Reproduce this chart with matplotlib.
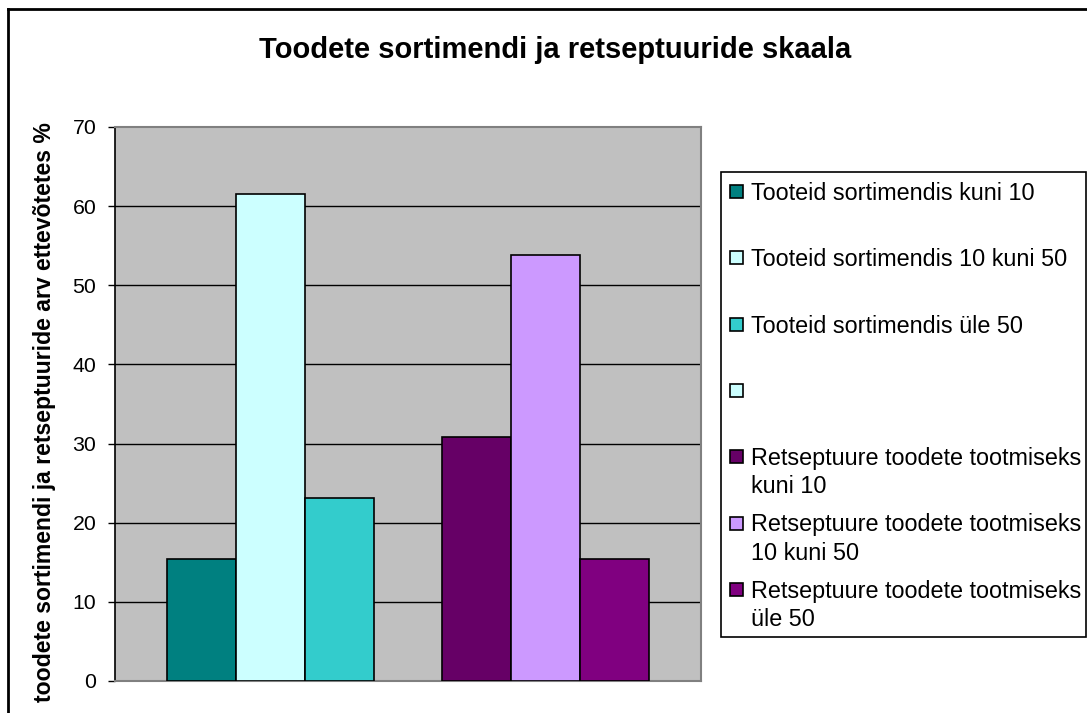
import matplotlib
matplotlib.use("Agg")
import matplotlib.pyplot as plt
from matplotlib.patches import Rectangle
from matplotlib.lines import Line2D
import numpy as np

plt.rcParams['font.family'] = ['Liberation Sans', 'DejaVu Sans']

# ---- data ----
title = "Toodete sortimendi ja retseptuuride skaala"
ylabel = "toodete sortimendi ja retseptuuride arv ettevõtetes %"
series_labels = [
    "Tooteid sortimendis kuni 10",
    "Tooteid sortimendis 10 kuni 50",
    "Tooteid sortimendis üle 50",
    "",
    "Retseptuure toodete tootmiseks\nkuni 10",
    "Retseptuure toodete tootmiseks\n10 kuni 50",
    "Retseptuure toodete tootmiseks\nüle 50",
]
series_values = [15.4, 61.5, 23.1, None, 30.8, 53.8, 15.4]
series_colors = ["#008080", "#CCFFFF", "#33CCCC", "#CCFFFF",
                 "#660066", "#CC99FF", "#800080"]
y_ticks = [0, 10, 20, 30, 40, 50, 60, 70]

W, H = 1087, 713
fig = plt.figure(figsize=(W / 100, H / 100), dpi=100)

def fx(px):
    return px / W

def fy(py):
    return 1 - py / H

# plot area
left, right, top, bottom = 115, 701, 127, 681
ax = fig.add_axes([fx(left), fy(bottom), fx(right - left), (bottom - top) / H])
ax.set_facecolor("#C0C0C0")

n = len(series_values)
offsets = np.arange(n) - (n - 1) / 2
for i, v in enumerate(series_values):
    if v is None:
        continue
    ax.bar(offsets[i], v, width=1.0, color=series_colors[i],
           edgecolor="black", linewidth=1.2, zorder=3)

half = (right - left) / 68.8 / 2
ax.set_xlim(-half, half)
ax.set_ylim(0, 70)
ax.set_xticks([])
ax.set_yticks(y_ticks)
ax.set_yticklabels([str(t) for t in y_ticks], fontsize=15.3)
ax.tick_params(axis='y', direction='out', length=5.3, width=1, pad=8.2, colors='black')
for t in y_ticks[1:-1]:
    ax.axhline(t, color='black', linewidth=1, zorder=1)

for s in ['top', 'right', 'bottom']:
    ax.spines[s].set_color('#808080')
    ax.spines[s].set_linewidth(1.5)
ax.spines['left'].set_color('black')
ax.spines['left'].set_linewidth(1.2)

# title and y-label
fig.text(fx(555), fy(58.3), title, ha='center', va='baseline',
         fontsize=21, fontweight='bold')
fig.text(fx(45), fy(412), ylabel, ha='center', va='center',
         rotation=90, fontsize=16.6, fontweight='bold')

# legend (Excel style)
lx0, ly0, lx1, ly1 = 721, 172, 1086, 637
fig.patches.append(Rectangle((fx(lx0), fy(ly1)), fx(lx1 - lx0), (ly1 - ly0) / H,
                             transform=fig.transFigure, facecolor='white',
                             edgecolor='black', linewidth=1.2))
first_y = 191.7
step = 66.27
line_h = 28.3
msz = 13
for i, lab in enumerate(series_labels):
    yc = first_y + i * step
    fig.patches.append(Rectangle((fx(729.5), fy(yc + msz / 2)), fx(msz), msz / H,
                                 transform=fig.transFigure,
                                 facecolor=series_colors[i], edgecolor='black',
                                 linewidth=1.2))
    for j, line in enumerate(lab.split("\n")):
        if not line:
            continue
        fig.text(fx(750.7), fy(yc + j * line_h + 8.3), line, ha='left',
                 va='baseline', fontsize=16.8)

# figure border (top and left visible)
fig.lines.append(Line2D([fx(7.5), fx(7.5)], [0, fy(8.5)], transform=fig.transFigure,
                        color='black', linewidth=2))
fig.lines.append(Line2D([fx(7.5), 1], [fy(8.5), fy(8.5)], transform=fig.transFigure,
                        color='black', linewidth=2))

fig.savefig("out.png", dpi=100)
